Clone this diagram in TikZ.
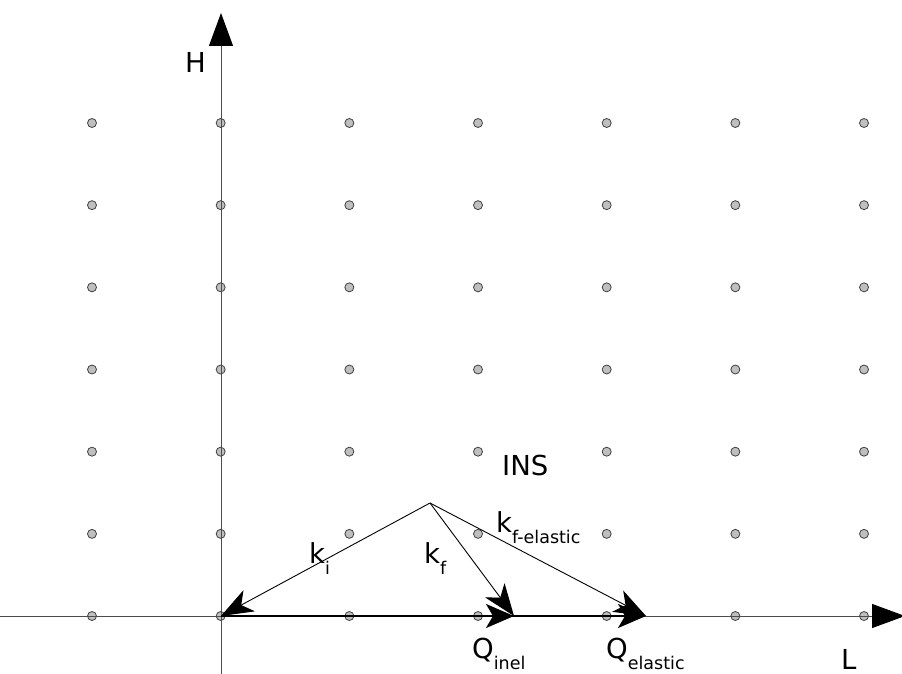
\documentclass[tikz,border=0pt]{standalone}
\usepackage{fontspec}
\setmainfont{DejaVu Sans}
\usetikzlibrary{arrows.meta}
\newcommand{\lbl}[2]{#1\raisebox{-11pt}{\fontsize{17.5}{18}\selectfont #2}}
\begin{document}
\begin{tikzpicture}[x=1pt,y=-1pt,
  axisline/.style={draw=black!70,line width=1pt,-{Triangle[length=33pt,width=24pt,color=black]}},
  vec/.style={draw=black,line width=0.9pt,-{Stealth[length=32pt,width=24pt,inset=9pt]}},
  qvec/.style={draw=black,line width=2pt,-{Stealth[length=28pt,width=24pt,inset=7pt]}},
  dot/.style={circle,draw=black!75,fill=black!25,line width=0.8pt,minimum size=9pt,inner sep=0pt},
  txt/.style={font=\fontsize{27.5}{32}\selectfont,inner sep=0pt,anchor=base west}]
\useasboundingbox (0,0) rectangle (902,674);
% grid of points
\foreach \i in {0,...,6} {
  \foreach \j in {0,...,6} {
    \node[dot] (p\i\j) at ({92+128.67*\i},{123+82.17*\j}) {};
  }
}
% axes
\coordinate (o) at (221,616);
\coordinate (hb) at (221,680);
\coordinate (ht) at (221,13);
\coordinate (ll) at (-5,616);
\coordinate (lr) at (905,616);
\draw[axisline] (hb) -- (ht);
\draw[axisline] (ll) -- (lr);
% vectors
\coordinate (apex) at (430,503);
\coordinate (qi) at (514,616);
\coordinate (qe) at (646,616);
\draw[qvec] (o) -- (qe);
\draw[qvec] (o) -- (qi);
\draw[vec] (apex) -- (o);
\draw[vec] (apex) -- (qi);
\draw[vec] (apex) -- (qe);
% labels
\node[txt] (hl) at (185,73) {H};
\node[txt] (ins) at (502,475) {INS};
\node[txt] (ki) at (309,563) {\lbl{k}{i}};
\node[txt] (kf) at (424,563) {\lbl{k}{f}};
\node[txt] (kfe) at (496,532) {\lbl{k}{f-elastic}};
\node[txt] (qin) at (472,658) {\lbl{Q}{inel}};
\node[txt] (qel) at (606,658) {\lbl{Q}{elastic}};
\node[txt] (ll2) at (841,669) {L};
\end{tikzpicture}
\end{document}
